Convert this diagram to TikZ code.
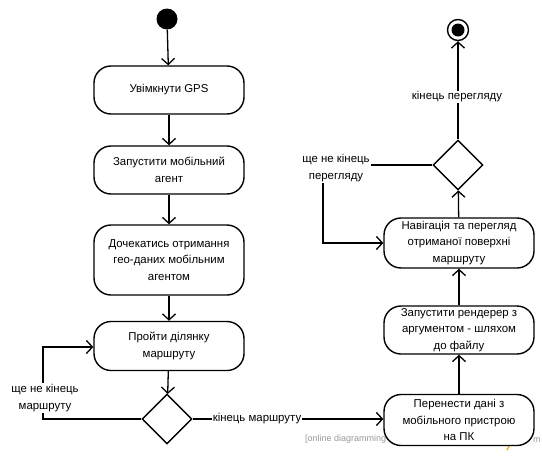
\documentclass[tikz,border=0pt]{standalone}
\usepackage{fontspec}
\setmainfont{Liberation Sans}
\usetikzlibrary{arrows.meta,shapes.geometric}
\begin{document}
\begin{tikzpicture}[x=1pt,y=-1pt,
  act/.style={draw,line width=1.4pt,rounded corners=17pt,minimum width=150pt,align=center,font=\fontsize{11.4}{16.5}\selectfont,fill=white,inner sep=2pt},
  dec/.style={draw,line width=1.4pt,diamond,minimum width=50pt,minimum height=50pt,inner sep=0pt,fill=white},
  conn/.style={line width=1.3pt,-{Straight Barb[length=6pt,width=13pt,line width=1.3pt]}},
  lbl/.style={fill=white,align=center,font=\fontsize{11.4}{16.5}\selectfont,inner sep=1pt},
  wmark/.style={text=black!40,font=\fontsize{9}{11}\selectfont,inner sep=0pt}]
\useasboundingbox (0,0) rectangle (543,455);
\node[wmark,anchor=west] (wm1) at (305,439) {[online diagramming};
\node[wmark,anchor=west] (wm2) at (533,440) {m};
\draw[orange!80!yellow,line width=1.2pt] (507,450) -- (509.5,445.5);
\node[circle,fill=black,minimum size=21pt,inner sep=0pt] (start) at (167,19) {};
\node[act,minimum height=48pt] (n1) at (169,90) {Увімкнути GPS};
\node[act,minimum height=48pt] (n2) at (169,170) {Запустити мобільний\\агент};
\node[act,minimum height=70pt] (n3) at (169,260) {Дочекатись отримання\\гео-даних мобільним\\агентом};
\node[act,minimum height=49pt] (n4) at (169,346) {Пройти ділянку\\маршруту};
\node[dec] (d1) at (167,419) {};
\node[act,minimum height=51pt] (n5) at (459,420) {Перенести дані з\\мобільного пристрою\\на ПК};
\node[act,minimum height=48pt] (n6) at (459,330) {Запустити рендерер з\\аргументом - шляхом\\до файлу};
\node[act,minimum height=50pt] (n7) at (459,243) {Навігація та перегляд\\отриманої поверхні\\маршруту};
\node[dec] (d2) at (458,165) {};
\node[circle,draw,line width=1.4pt,minimum size=21pt,inner sep=0pt] (end) at (458,30) {};
\node[circle,fill=black,minimum size=13pt,inner sep=0pt] (endin) at (458,30) {};
\coordinate (l1) at (43,419);
\coordinate (l2) at (43,347);
\coordinate (r1) at (323,165);
\coordinate (r2) at (323,243);
\draw[conn] (start) -- (n1);
\draw[conn] (n1) -- (n2);
\draw[conn] (n2) -- (n3);
\draw[conn] (n3) -- (n4);
\draw[conn] (n4) -- (d1);
\draw[conn] (d1.west) -- (l1) -- (l2) -- (n4.west |- l2);
\node[lbl] (t1) at (45,398) {ще не кінець\\маршруту};
\draw[conn] (d1.east) -- (n5.west |- d1.east);
\node[lbl] (t2) at (257,419) {кінець маршруту};
\draw[conn] (n5) -- (n6);
\draw[conn] (n6) -- (n7);
\draw[conn] (n7) -- (d2);
\draw[conn] (d2.west) -- (r1) -- (r2) -- (n7.west |- r2);
\node[lbl] (t3) at (336,168) {ще не кінець\\перегляду};
\draw[conn] (d2.north) -- (end.south);
\node[lbl] (t4) at (457,97) {кінець перегляду};
\end{tikzpicture}
\end{document}
